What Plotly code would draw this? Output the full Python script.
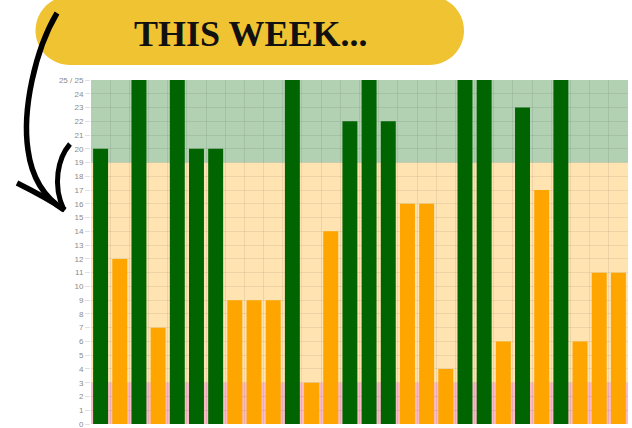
import plotly.graph_objects as go

# ---- data ----
days = ["1", "2", "3", "4", "5", "6", "7", "8", "9", "10", "11", "12", "13", "14",
        "15", "16", "17", "18", "19", "20", "21", "22", "23", "24", "25", "26", "27", "28"]
scores = [20, 12, 25, 7, 25, 20, 20, 9, 9, 9, 25, 3, 14, 22,
          25, 22, 16, 16, 4, 25, 25, 6, 23, 17, 25, 6, 11, 11]
y_tickvals = list(range(0, 26))
y_ticktext = [str(v) for v in range(0, 25)] + ["25 / 25"]
title_text = "THIS WEEK..."
max_score = 25
good_threshold = 19
low_threshold = 3

W, H = 632, 428
L, R, T, B = 91, 4, 80, 4
PW, PH = W - L - R, H - T - B


def px(x, y):
    return (x - L) / PW, (H - B - y) / PH


def path_from(cmds):
    out = []
    for c in cmds:
        if isinstance(c, str):
            out.append(c)
        else:
            xx, yy = px(*c)
            out.append(f"{xx:.5f},{yy:.5f}")
    return " ".join(out)


bar_colors = ["#006400" if v > good_threshold else "#FFA500" for v in scores]

fig = go.Figure(go.Bar(x=days, y=scores, marker=dict(color=bar_colors, line=dict(width=0)),
                       hoverinfo="skip"))

shapes = []
# background bands
bands = [(0, low_threshold, "rgba(245,120,140,0.5)"),
         (low_threshold, good_threshold, "rgba(255,165,0,0.3)"),
         (good_threshold, max_score, "rgba(0,100,0,0.3)")]
for y0, y1, col in bands:
    shapes.append(dict(type="rect", xref="paper", yref="y", x0=0, x1=1, y0=y0, y1=y1,
                       fillcolor=col, line=dict(width=0), layer="between"))

# title pill
k = 0.5523
r = 34.5
cxl, cxr, cy = 70.0, 429.5, 30.5
pill = ["M", (cxl, cy - r), "L", (cxr, cy - r),
        "C", (cxr + k * r, cy - r), (cxr + r, cy - k * r), (cxr + r, cy),
        "C", (cxr + r, cy + k * r), (cxr + k * r, cy + r), (cxr, cy + r),
        "L", (cxl, cy + r),
        "C", (cxl - k * r, cy + r), (cxl - r, cy + k * r), (cxl - r, cy),
        "C", (cxl - r, cy - k * r), (cxl - k * r, cy - r), (cxl, cy - r), "Z"]
shapes.append(dict(type="path", xref="paper", yref="paper", path=path_from(pill),
                   fillcolor="#f0c332", line=dict(width=0), layer="above"))

# hand-drawn arrow
arrow_main = ["M", (57, 13), "C", (35, 50), (22, 110), (28, 150),
              "C", (32, 180), (45, 198), (64, 210)]
arrow_left = ["M", (17, 183), "C", (35, 192), (50, 200), (65, 210)]
arrow_right = ["M", (70, 144), "C", (58, 158), (52, 185), (64, 210)]
for p, w in [(arrow_main, 5.5), (arrow_left, 5.5), (arrow_right, 5)]:
    shapes.append(dict(type="path", xref="paper", yref="paper", path=path_from(p),
                       line=dict(color="black", width=w), layer="above"))

tx, ty = px(250, 34)
fig.update_layout(
    width=W, height=H,
    margin=dict(l=L, r=R, t=T, b=B),
    paper_bgcolor="white", plot_bgcolor="white",
    showlegend=False, bargap=0.22,
    shapes=shapes,
    annotations=[dict(text=f"<b>{title_text}</b>", xref="paper", yref="paper", x=tx, y=ty,
                      xanchor="center", yanchor="middle", showarrow=False,
                      font=dict(family="Liberation Serif, DejaVu Serif, serif", size=36,
                                color="#111111"))],
    xaxis=dict(type="category", tickson="boundaries", showgrid=True, automargin=False,
               gridcolor="rgba(0,0,0,0.07)", showticklabels=False, ticks="",
               zeroline=False, showline=False, fixedrange=True),
    yaxis=dict(range=[0, max_score], tickvals=y_tickvals, ticktext=y_ticktext,
               showgrid=True, gridcolor="rgba(0,0,0,0.07)", zeroline=False,
               automargin=False,
               ticks="outside", ticklen=5, tickcolor="rgba(0,0,0,0.12)",
               ticklabeloverflow="allow",
               tickfont=dict(family="Liberation Sans, Arial, sans-serif", size=8,
                             color="#8a8a8a"),
               showline=False, fixedrange=True),
)

fig.write_html("out.html", config={"displayModeBar": False},
               post_script="document.body.style.margin='0';document.body.style.overflow='hidden';")
